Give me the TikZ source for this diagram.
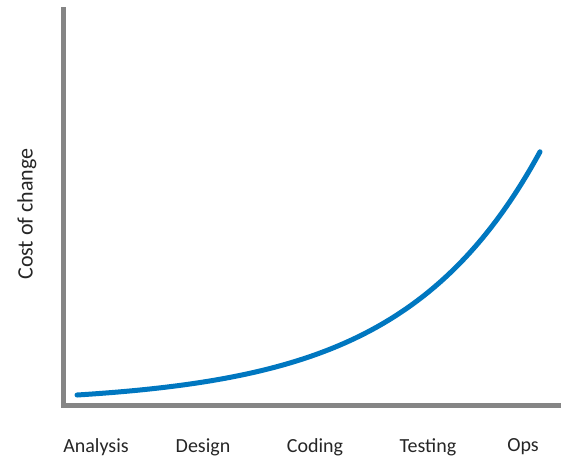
\documentclass[tikz,border=0pt]{standalone}
\usepackage{fontspec}
\setmainfont{Carlito}
\usetikzlibrary{positioning}
\definecolor{axisgray}{HTML}{858585}
\definecolor{curveblue}{HTML}{0077C0}

\begin{document}
\begin{tikzpicture}[x=1pt, y=-1pt,
  axis/.style={draw=axisgray, line width=5pt},
  curve/.style={draw=curveblue, line width=5pt, line cap=round},
  phase/.style={font=\fontsize{20}{24}\selectfont, text=black!85, anchor=center},
  ylabel/.style={font=\fontsize{22}{26}\selectfont, text=black!85, rotate=90, anchor=center}]

  \useasboundingbox (0,0) rectangle (561,467);

  % Axes
  \coordinate (top) at (63.5,7);
  \coordinate (origin) at (63.5,405.5);
  \coordinate (right) at (561,405.5);
  \draw [axis] (top) -- (origin) -- (right);

  % Curve
  \draw [curve] plot[domain=77:540, samples=80, smooth] (\x, {395-8.6*(exp(0.0073*(\x-77))-1)});

  % Nodes
  \node (analysis) [phase] at (96,447) {Analysis};
  \node (design) [phase] at (203,447) {Design};
  \node (coding) [phase] at (315,447) {Coding};
  \node (testing) [phase] at (428,447) {Testing};
  \node (ops) [phase] at (523,447) {Ops};
  \node (cost) [ylabel] at (27,214) {Cost of change};
\end{tikzpicture}
\end{document}
